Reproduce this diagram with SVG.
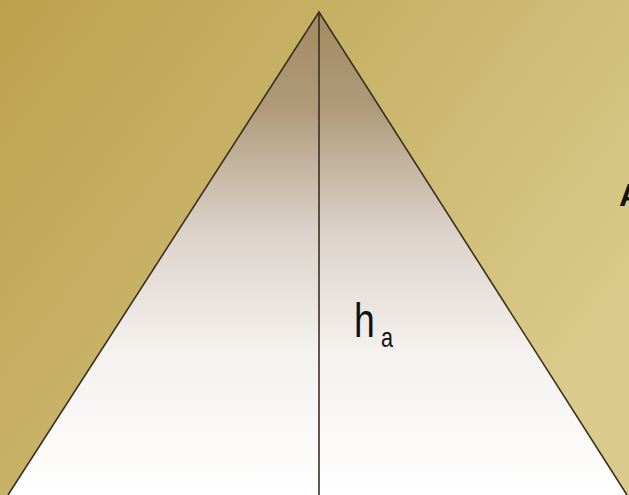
<svg xmlns="http://www.w3.org/2000/svg" width="629" height="495" viewBox="0 0 629 495">
<defs>
<linearGradient id="bg" x1="0" y1="0" x2="1" y2="0.6">
<stop offset="0" stop-color="#bda24e"/>
<stop offset="0.5" stop-color="#c9b46a"/>
<stop offset="1" stop-color="#dacb8c"/>
</linearGradient>
<linearGradient id="fill" gradientUnits="userSpaceOnUse" x1="0" y1="12" x2="0" y2="495">
<stop offset="0" stop-color="#a28a60"/>
<stop offset="0.2" stop-color="#b09a7a"/>
<stop offset="0.45" stop-color="#dbd1c9"/>
<stop offset="0.7" stop-color="#f4f1ee"/>
<stop offset="1" stop-color="#ffffff"/>
</linearGradient>
<style>
.edge{stroke:#3a2f1f;stroke-width:1.6;fill:none}
.lbl{font-family:"Liberation Sans",Arial,sans-serif;fill:#111}
</style>
</defs>
<rect width="629" height="495" fill="url(#bg)"/>
<g id="triangle">
<polygon points="319,12 8,495 627,495" fill="url(#fill)"/>
<polyline class="edge" points="8,495 319,12 627,495"/>
</g>
<g id="connectors">
<line class="edge" x1="319" y1="12" x2="319" y2="495"/>
</g>
<g id="label-ha">
<text class="lbl" transform="translate(354,337) scale(0.78,1)" font-size="48">h</text>
<text class="lbl" transform="translate(381,347) scale(0.8,1)" font-size="27">a</text>
</g>
<g id="label-A">
<text class="lbl" x="619" y="206" font-size="32" font-weight="bold" fill="#1a140c">A</text>
</g>
</svg>
